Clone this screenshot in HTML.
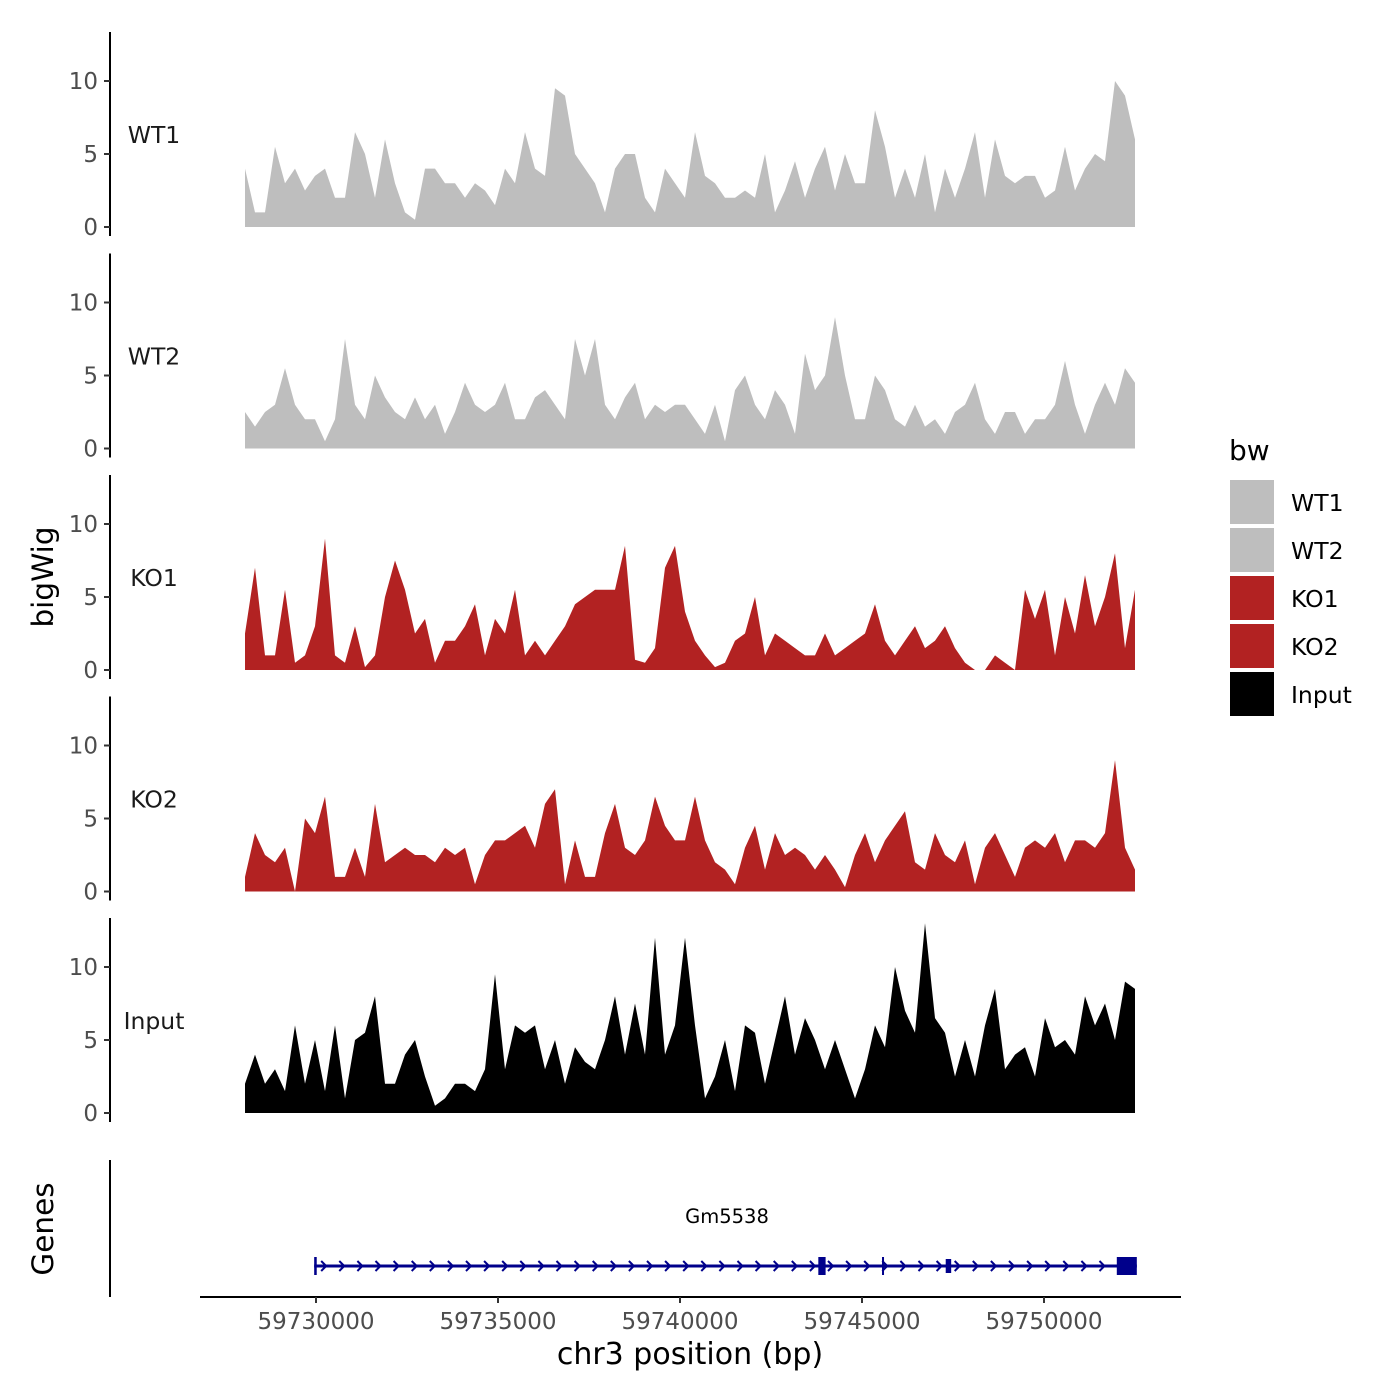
<!DOCTYPE html>
<html><head><meta charset="utf-8"><style>
body{margin:0;background:#fff;}
svg{display:block;font-family:"DejaVu Sans","Liberation Sans",sans-serif;}
</style></head><body>
<svg id="chart" width="1400" height="1400" viewBox="0 0 1400 1400" xmlns="http://www.w3.org/2000/svg"></svg>
<script>
const trackNames = ["WT1","WT2","KO1","KO2","Input"];
const trackColors = ["#bebebe","#bebebe","#b22222","#b22222","#000000"];
const wt1 = [4,1,1,5.5,3,4,2.5,3.5,4,2,2,6.5,5,2,6,3,1,0.5,4,4,3,3,2,3,2.5,1.5,4,3,6.5,4,3.5,9.5,9,5,4,3,1,4,5,5,2,1,4,3,2,6.5,3.5,3,2,2,2.5,2,5,1,2.5,4.5,2,4,5.5,2.5,5,3,3,8,5.5,2,4,2,5,1,4,2,4,6.5,2,6,3.5,3,3.5,3.5,2,2.5,5.5,2.5,4,5,4.5,10,9,6];
const wt2 = [2.5,1.5,2.5,3,5.5,3,2,2,0.5,2,7.5,3,2,5,3.5,2.5,2,3.5,2,3,1,2.5,4.5,3,2.5,3,4.5,2,2,3.5,4,3,2,7.5,5,7.5,3,2,3.5,4.5,2,3,2.5,3,3,2,1,3,0.5,4,5,3,2,4,3,1,6.5,4,5,9,5,2,2,5,4,2,1.5,3,1.5,2,1,2.5,3,4.5,2,1,2.5,2.5,1,2,2,3,6,3,1,3,4.5,3,5.5,4.5];
const ko1 = [2.5,7,1,1,5.5,0.5,1,3,9,1,0.5,3,0.2,1,5,7.5,5.5,2.5,3.5,0.5,2,2,3,4.5,1,3.5,2.5,5.5,1,2,1,2,3,4.5,5,5.5,5.5,5.5,8.5,0.7,0.5,1.5,7,8.5,4,2,1,0.2,0.5,2,2.5,5,1,2.5,2,1.5,1,1,2.5,1,1.5,2,2.5,4.5,2,1,2,3,1.5,2,3,1.5,0.5,0,0,1,0.5,0,5.5,3.5,5.5,1,5,2.5,6.5,3,5,8,1.5,5.5];
const ko2 = [1,4,2.5,2,3,0,5,4,6.5,1,1,3,1,6,2,2.5,3,2.5,2.5,2,3,2.5,3,0.5,2.5,3.5,3.5,4,4.5,3,6,7,0.5,3.5,1,1,4,6,3,2.5,3.5,6.5,4.5,3.5,3.5,6.5,3.5,2,1.5,0.5,3,4.5,1.5,4,2.5,3,2.5,1.5,2.5,1.5,0.3,2.5,4,2,3.5,4.5,5.5,2,1.5,4,2.5,2,3.5,0.5,3,4,2.5,1,3,3.5,3,4,2,3.5,3.5,3,4,9,3,1.5];
const input = [2,4,2,3,1.5,6,2,5,1.5,6,1,5,5.5,8,2,2,4,5,2.5,0.5,1,2,2,1.5,3,9.5,3,6,5.5,6,3,5,2,4.5,3.5,3,5,8,4,7.5,4,12,4,6,12,6,1,2.5,5,1.5,6,5.5,2,5,8,4,6.5,5,3,5,3,1,3,6,4.5,10,7,5.5,13,6.5,5.5,2.5,5,2.5,6,8.5,3,4,4.5,2.5,6.5,4.5,5,4,8,6,7.5,5,9,8.5];
const trackValues = [wt1,wt2,ko1,ko2,input];
const yTicks = [0,5,10];
const xTicks = [59730000,59735000,59740000,59745000,59750000];
const dataStart = 59728050, dataEnd = 59752500;
const exonStarts = [59729950,59743800,59745550,59747300,59752000];
const exonEnds   = [59730020,59744000,59745600,59747450,59752550];
const exonHeights = [18,18,18,14,18];

const svg = document.getElementById('chart');
const NS = "http://www.w3.org/2000/svg";
function mk(tag, attrs, parent){const e=document.createElementNS(NS,tag);for(const k in attrs)e.setAttribute(k,attrs[k]);(parent||svg).appendChild(e);return e;}
const xScale = bp => 316 + (bp - 59730000) * (182/5000);
const panelZero = i => 227 + i*221.5;
const yScale = (i,v) => panelZero(i) - v*14.6;

trackValues.forEach((vals,i)=>{
  const g = mk('g',{});
  
  
  const n = vals.length;
  const xs = vals.map((v,j)=> xScale(dataStart + (dataEnd-dataStart)*j/(n-1)));
  let d = `M${xs[0]},${panelZero(i)}`;
  vals.forEach((v,j)=>{ d += ` L${xs[j].toFixed(1)},${yScale(i,v).toFixed(1)}`; });
  d += ` L${xs[n-1]},${panelZero(i)} Z`;
  const p = mk('path',{d:d,fill:trackColors[i]},g);
  
  
  const top = 32 + i*221.5;
  const ax = mk('line',{x1:110,x2:110,y1:top,y2:top+204,stroke:'#000','stroke-width':2},g);
  
  
  yTicks.forEach(t=>{
    const y = yScale(i,t);
    mk('line',{x1:104,x2:110,y1:y,y2:y,stroke:'#333','stroke-width':2},g);
    const tl = mk('text',{x:98,y:y+8,'text-anchor':'end','font-size':23,fill:'#4d4d4d'},g);
    tl.textContent = t;
    
    
  });
  const lab = mk('text',{x:154,y:panelZero(i)-84,'text-anchor':'middle','font-size':23.5,fill:'#1a1a1a'},g);
  lab.textContent = trackNames[i];
  
  
});

const yt = mk('text',{x:0,y:0,'font-size':29.5,'text-anchor':'middle',transform:'translate(53,577) rotate(-90)'});
yt.textContent='bigWig';


const gt = mk('text',{x:0,y:0,'font-size':29.5,'text-anchor':'middle',transform:'translate(53,1229) rotate(-90)'});
gt.textContent='Genes';



const gl = mk('line',{x1:110,x2:110,y1:1160,y2:1297,stroke:'#000','stroke-width':2});


const gg = mk('g',{});


const gy = 1266;
mk('line',{x1:xScale(59729950),x2:xScale(59752550),y1:gy,y2:gy,stroke:'#00008b','stroke-width':3},gg);
for(let x=xScale(59729950)+10; x<xScale(59752000); x+=18.1){
  mk('path',{d:`M${x-3},${gy-5} L${x+2},${gy} L${x-3},${gy+5}`,fill:'none',stroke:'#00008b','stroke-width':2},gg);
}
exonStarts.forEach((s,k)=>{
  const x1=xScale(s), x2=xScale(exonEnds[k]);
  const r = mk('rect',{x:x1,y:gy-exonHeights[k]/2,width:Math.max(2,x2-x1),height:exonHeights[k],fill:'#00008b'},gg);
  
  
});
const gn = mk('text',{x:727,y:1223,'text-anchor':'middle','font-size':19.5,fill:'#000'},gg);
gn.textContent='Gm5538';



const xa = mk('line',{x1:200,x2:1181,y1:1297,y2:1297,stroke:'#000','stroke-width':2});


xTicks.forEach(t=>{
  const x = xScale(t);
  mk('line',{x1:x,x2:x,y1:1297,y2:1303,stroke:'#333','stroke-width':2});
  const tl = mk('text',{x:x,y:1329,'text-anchor':'middle','font-size':23,fill:'#4d4d4d'});
  tl.textContent = t;
  
  
});
const xt = mk('text',{x:690,y:1364,'text-anchor':'middle','font-size':30,fill:'#000'});
xt.textContent='chr3 position (bp)';



const lg = mk('g',{});


const lt = mk('text',{x:1229,y:460,'font-size':28,fill:'#000'},lg);
lt.textContent='bw';


trackNames.forEach((nm,k)=>{
  const y = 480 + k*48;
  const e = mk('g',{},lg);
  
  
  mk('rect',{x:1230,y:y,width:44,height:44,fill:trackColors[k]},e);
  const t = mk('text',{x:1291,y:y+31,'font-size':23.5,fill:'#000'},e);
  t.textContent = nm;
});
</script>
</body></html>
